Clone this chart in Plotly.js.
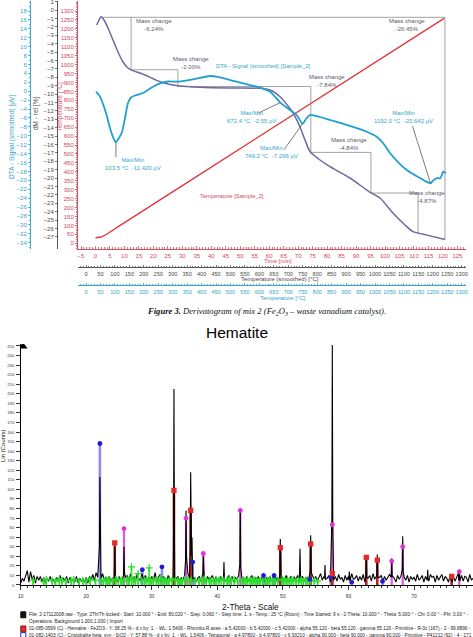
<!DOCTYPE html>
<html>
<head>
<meta charset="utf-8">
<script src="https://cdn.plot.ly/plotly-3.0.1.min.js"></script>
<style>
  html, body { margin: 0; padding: 0; background: #fff; }
  #fig { width: 473px; height: 637px; }
</style>
</head>
<body>
<div id="fig"></div>
<script>
// ---------- Thermal analysis of Sample_2 ----------
// furnace temperature programme: time [min] -> temperature [°C]
const tempProgTime  = [0, 2, 4, 8, 30, 60, 90, 120.4];
const tempProgValue = [31, 35, 52, 95, 323, 634, 944, 1259];

// DTA signal (smoothed) vs temperature [°C]
const dtaTemp = [34.6, 48.4, 69.2, 83.0, 93.4, 103.5, 114.2, 124.6, 134.9, 145.3, 155.7, 169.6, 197.2,
  231.8, 256.1, 283.7, 313.8, 370.2, 429.1, 452.2, 498.3, 543.3, 590.7, 636.7, 672.4, 705.9, 729.1,
  749.2, 761.2, 775.1, 809.7, 844.3, 902.1, 971.3, 1005.9, 1027.7, 1051.9, 1079.6, 1109.7, 1131.5,
  1155.7, 1173.0, 1192.0, 1200.7, 1211.1, 1218.0, 1224.9, 1231.8, 1235.3, 1245.7];
const dtaSignal = [-0.11, -1.23, -4.89, -8.26, -10.28, -11.42, -10.50, -9.16, -6.01, -2.65, -1.41, -0.96, -0.40,
  1.01, 1.77, 2.18, 2.13, 2.67, 3.41, 3.26, 2.51, 1.77, 1.01, -0.11, -2.55, -4.22, -5.34,
  -7.296, -6.24, -5.34, -5.79, -6.46, -7.58, -9.09, -10.21, -11.62, -13.87, -15.89, -17.68, -18.58,
  -19.48, -20.15, -20.642, -20.08, -19.59, -19.48, -19.59, -18.8, -18.07, -18.36];

// DTA extrema marked on the curve
const dtaPeakTemp   = [103.5, 672.4, 749.2, 1192.0];
const dtaPeakSignal = [-11.420, -2.55, -7.296, -20.642];
const dtaPeakDigits = [3, 2, 3, 3];

// relative mass change dM [%] vs smoothed temperature [°C]
const massTemp = [37.0, 45.0, 51.9, 62.3, 76.1, 93.4, 110.7, 128.0, 140.8, 152.2, 204.2, 256.1, 325.3,
  394.5, 498.3, 602.1, 636.7, 671.3, 699.0, 716.3, 740.5, 757.8, 775.1, 809.7, 844.3, 913.5, 982.7,
  1017.3, 1062.3, 1103.8, 1131.5, 1180.0, 1242.2];
const massRel = [-1.79, -1.19, -0.80, -1.19, -2.14, -3.57, -5.00, -6.19, -6.75, -7.06, -7.74, -8.54, -9.05,
  -9.20, -9.29, -9.32, -9.52, -10.32, -11.43, -12.26, -13.93, -15.48, -16.85, -17.86, -18.65, -20.00, -21.70,
  -22.38, -24.17, -25.60, -26.39, -26.80, -27.32];

// mass-change evaluation steps
const massStartTemp  = 52;
const massStartLevel = -0.87;
const massStepTemp   = [156, 318, 778, 986, 1149];
const massStepLoss   = [6.24, 2.00, 7.84, 4.84, 4.87];
const massTotalTemp  = 1242;
const massTotalLoss  = 26.45;

// axis tick values
const tempTicks = [0,50,100,150,200,250,300,350,400,450,500,550,600,650,700,750,800,850,900,950,1000,1050,1100,1150,1200,1250,1300];
const dmTicks   = [1,0,-1,-2,-3,-4,-5,-6,-7,-8,-9,-10,-11,-12,-13,-14,-15,-16,-17,-18,-19,-20,-21,-22,-23,-24,-25,-26,-27];
const dtaTicks  = [18,16,14,12,10,8,6,4,2,0,-2,-4,-6,-8,-10,-12,-14,-16,-18,-20,-22,-24,-26,-28,-30,-32,-34];

// ---------- XRD scan (Hematite) ----------
const scanStart = 10, scanStep = 0.25;
const bgCounts = [
  2,7,4,9, 15,3,14,6, 10,2,9,5, 9,3,8,2, 7,4,9,3, 6,2,8,4, 10,3,7,5, 9,2,8,4, 6,3,9,2, 7,4,6,3,
  8,2,9,5, 11,4,13,8, 16,6,12,5, 8,3,9,4, 7,5,8,3, 9,4,6,5, 8,10,4,12, 6,9,3,11, 7,4,12,5, 10,3,8,6,
  9,4,13,5, 8,11,4,9, 7,3,10,6, 5,8,4,7, 9,3,8,5, 10,6,12,7, 9,4,8,3, 7,9,4,11, 8,3,9,5, 7,10,4,8,
  6,3,9,5, 8,4,7,10, 5,9,3,8, 6,10,4,7, 8,3,9,4, 7,10,3,8, 5,9,4,7, 10,3,8,5, 9,4,7,11, 6,3,9,4,
  8,5,10,3, 7,9,4,8, 6,10,3,7, 9,4,8,5, 7,3,10,6, 9,4,8,12, 5,9,4,7, 10,3,8,5, 9,4,11,6, 8,3,10,5,
  9,4,12,6, 7,10,4,9, 5,11,3,8, 7,10,4,12, 6,9,3,8, 10,4,9,5, 8,11,4,9, 7,3,10,6, 9,4,8,5, 10,3,9,6,
  8,4,11,5, 7,10,3,9, 6,4,11,8, 9,3,10,5, 8,11,4,9, 7,3,10,6, 9,4,8,12, 6,10,4,9, 8,3,11,5, 7];
// reflections of the measured pattern: position, top, counts 0.07° left / right
const peakTheta = [22.08, 24.35, 25.76, 33.38, 35.22, 35.93, 36.13, 37.86, 41.01, 43.50, 49.60, 52.61,
  54.24, 56.42, 57.54, 60.13, 62.72, 64.40, 66.60, 68.28, 72.09, 75.75, 76.91];
const peakTop   = [113, 40, 40, 205, 78, 118, 50, 30, 24, 80, 48, 38, 52, 21, 251, 14, 29, 32, 28, 51, 16, 10, 16];
const peakLeft  = [40, 12, 10, 45, 25, 40, 30, 10, 8, 22, 14, 12, 15, 7, 70, 5, 9, 10, 8, 16, 5, 4, 5];
const peakRight = [35, 10, 12, 55, 30, 55, 12, 8, 6, 18, 12, 10, 14, 6, 60, 6, 8, 8, 9, 14, 6, 3, 4];

// reference phase sticks
const hematiteTheta = [24.35, 33.38, 35.93, 49.60, 54.24, 57.54, 62.72, 64.40, 75.75];
const hematiteY     = [44, 99, 78, 39, 43, 12, 29, 26, 9];
const cristobTheta  = [22.08, 28.55, 31.55, 36.24, 47.05, 48.65, 54.10, 57.30, 60.50, 65.20];
const cristobY      = [148, 16, 19, 24, 10, 10, 6, 8, 3, 4];
const phase3Theta   = [25.76, 35.22, 37.86, 43.50, 57.54, 66.60, 68.28, 76.91];
const phase3Y       = [59, 70, 33, 78, 63, 25, 40, 14];
const phase4Theta   = [11.9, 13.5, 13.9, 14.8, 15.3, 15.9, 16.3, 16.9, 17.7, 18.1, 18.9, 19.5, 20.0, 20.6,
  21.4, 22.3, 22.6, 23.0, 23.3, 23.6, 24.0, 24.5, 24.9, 25.3, 25.6, 26.2, 26.5, 26.9, 27.2, 27.5, 27.9,
  28.4, 28.9, 29.2, 29.6, 29.9, 30.2, 30.7, 31.0, 31.3, 31.7, 32.0, 32.3, 32.6, 33.1, 33.6, 34.0, 34.3,
  34.6, 35.0, 35.5, 36.0, 36.6, 37.2, 37.6, 38.0, 38.3, 38.8, 39.1, 39.5, 39.8, 40.2, 40.6, 41.0, 41.5,
  41.8, 42.1, 42.6, 43.1, 43.8, 44.0, 44.3, 44.6, 45.0, 45.3, 45.6, 45.9, 46.2, 46.5, 46.9, 47.4, 47.7,
  48.0, 48.4, 48.8, 49.2, 49.9, 50.1, 50.4, 50.7, 51.0, 51.3, 51.6, 52.0, 52.4, 52.8, 53.1, 53.5, 53.8,
  54.2, 54.8, 55.3];
const phase4Y       = [5, 4, 6, 5, 4, 6, 5, 4, 5, 6, 4, 5, 4, 6,
  5, 4, 4, 6, 5, 5, 4, 6, 6, 5, 4, 7, 5, 19, 6, 6, 12,
  5, 5, 6, 18, 4, 6, 5, 4, 7, 6, 5, 4, 4, 6, 5, 5, 4,
  4, 6, 6, 5, 5, 4, 6, 6, 5, 5, 4, 4, 6, 5, 6, 5, 4,
  6, 5, 6, 4, 5, 5, 4, 6, 5, 4, 6, 5, 4, 5, 6, 4, 5,
  6, 5, 4, 5, 6, 5, 4, 6, 4, 5, 6, 4, 5, 6, 4, 5, 6,
  4, 5, 4];

const legendLines = [
  'File: 2-17112008.raw - Type: 2Th/Th locked - Start: 10.000 ° - End: 80.020 ° - Step: 0.060 ° - Step time: 1. s - Temp.: 25 °C (Room) - Time Started: 9 s - 2-Theta: 10.000 ° - Theta: 5.000 ° - Chi: 0.00 ° - Phi: 0.00 ° -',
  'Operations: Background 1.000,1.000 | Import',
  '01-085-0599 (C) - Hematite - Fe2O3 - Y: 38.25 % - d x by: 1. - WL: 1.5406 - Rhombo.R.axes - a 5.42000 - b 5.42000 - c 5.42000 - alpha 55.120 - beta 55.120 - gamma 55.120 - Primitive - R-3c (167) - 2 - 99.6896 -',
  '01-082-1403 (C) - Cristobalite beta, syn - SiO2 - Y: 57.88 % - d x by: 1. - WL: 1.5406 - Tetragonal - a 4.97800 - b 4.97800 - c 6.93210 - alpha 90.000 - beta 90.000 - gamma 90.000 - Primitive - P41212 (92) - 4 - 171'
];

// ---------- page geometry (pixels of the 473 x 637 page) ----------
const W = 473, H = 637;
const px = v => v / W;
const py = v => 1 - v / H;
const FONT = 'Liberation Sans, Arial, Helvetica, sans-serif';

const redLine = '#e2383c', redTxt = '#d6485c';
const teal = '#1f9fd2', tealTxt = '#35a6c8';
const massCol = '#6c6a9e', darkTxt = '#4a4a4a';

// top block: plot area 78..466 x 1..249
const G = { left: 78, right: 466, top: 1, bottom: 249 };
const timeZero = 95.5, timePerMin = 2.895;
const tX0 = 86, tX1300 = 461.7;
const tY0 = 243.3, tY1300 = 11;
const dmZero = 10, dmPerPct = 8.4;
const dta18 = 11, dtaM34 = 242.7;

const timeRange = [(G.left - timeZero) / timePerMin, (G.right - timeZero) / timePerMin];
const sX = (tX1300 - tX0) / 1300;
const tempXRange = [(G.left - tX0) / sX, (G.right - tX0) / sX];
const sY = (tY0 - tY1300) / 1300;
const tempYRange = [-(G.bottom - tY0) / sY, (tY0 - G.top) / sY];
const dmRange = [-(G.bottom - dmZero) / dmPerPct, (dmZero - G.top) / dmPerPct];
const sD = (dtaM34 - dta18) / 52;
const dtaRange = [-34 - (G.bottom - dtaM34) / sD, 18 + (dta18 - G.top) / sD];

// bottom block
const xrd10 = 20.7, xrdPerDeg = 6.555, xrdZero = 585, xrdPerCount = 0.956, xrdTop = 252;
const xrdRange = [10, 10 + (W - xrd10) / xrdPerDeg];

// ---------- traces ----------
const traces = [];

traces.push({ x: tempProgTime, y: tempProgValue, xaxis: 'x', yaxis: 'y', mode: 'lines',
  line: { color: redLine, width: 1.4 }, hoverinfo: 'skip' });

// mass-change staircase
const levels = [massStartLevel];
massStepLoss.forEach(l => levels.push(levels[levels.length - 1] - l));
const bx = [massStartTemp, massTotalTemp, massTotalTemp, null];
const by = [massStartLevel, massStartLevel, massStartLevel - massTotalLoss, null];
massStepTemp.forEach((t, i) => {
  bx.push(t, t);
  by.push(levels[i], levels[i + 1]);
  if (i + 1 < massStepTemp.length) { bx.push(massStepTemp[i + 1]); by.push(levels[i + 1]); }
});
traces.push({ x: bx, y: by, xaxis: 'x2', yaxis: 'y2', mode: 'lines',
  line: { color: '#8a8a8a', width: 0.8 }, connectgaps: false, hoverinfo: 'skip' });

traces.push({ x: massTemp, y: massRel, xaxis: 'x2', yaxis: 'y2', mode: 'lines',
  line: { color: massCol, width: 1.5, shape: 'spline', smoothing: 0.6 }, hoverinfo: 'skip' });

traces.push({ x: dtaTemp, y: dtaSignal, xaxis: 'x3', yaxis: 'y3', mode: 'lines',
  line: { color: teal, width: 1.8, shape: 'spline', smoothing: 0.6 }, hoverinfo: 'skip' });

// leaders from the extrema labels to the DTA curve (offsets in pixels)
const leaderOffset = [[0, 15], [-22, 10.5], [-18.5, 26], [-18, -57]];
const lx = [], ly = [];
dtaPeakTemp.forEach((t, i) => {
  lx.push(t, t + leaderOffset[i][0] / sX, null);
  ly.push(dtaPeakSignal[i], dtaPeakSignal[i] - leaderOffset[i][1] / sD, null);
});
traces.push({ x: lx, y: ly, xaxis: 'x3', yaxis: 'y3', mode: 'lines',
  line: { color: '#5a5a5a', width: 0.8 }, hoverinfo: 'skip' });

// XRD pattern: background scan points plus reflection profiles
const pts = [];
bgCounts.forEach((c, i) => {
  const t = scanStart + i * scanStep;
  if (!peakTheta.some(p => Math.abs(p - t) < 0.1)) pts.push([t, c]);
});
peakTheta.forEach((t, i) => {
  pts.push([t - 0.07, peakLeft[i]], [t, peakTop[i]], [t + 0.07, peakRight[i]]);
});
pts.sort((a, b) => a[0] - b[0]);

function sticks(theta, ys) {
  const x = [], y = [];
  theta.forEach((t, i) => { x.push(t, t, null); y.push(0, ys[i], null); });
  return { x, y };
}
const stickSets = [
  [cristobTheta, cristobY, '#8e8ef0', 2.6],
  [phase3Theta, phase3Y, '#de5ade', 2.2],
  [hematiteTheta, hematiteY, '#b42424', 2.6]
];
stickSets.forEach(([t, v, c, w]) => {
  const s = sticks(t, v);
  traces.push({ x: s.x, y: s.y, xaxis: 'x4', yaxis: 'y4', mode: 'lines',
    line: { color: c, width: w }, hoverinfo: 'skip' });
});

traces.push({ x: pts.map(p => p[0]), y: pts.map(p => p[1]), xaxis: 'x4', yaxis: 'y4', mode: 'lines',
  line: { color: '#000', width: 1.1 }, hoverinfo: 'skip' });

// fourth phase drawn over the noise band
const g = sticks(phase4Theta, phase4Y);
traces.push({ x: g.x, y: g.y, xaxis: 'x4', yaxis: 'y4', mode: 'lines',
  line: { color: '#38e038', width: 1.8 }, hoverinfo: 'skip' });

const markerSets = [
  [phase4Theta, phase4Y, '#2cdc2c', 'cross-thin', 5],
  [cristobTheta, cristobY, '#1c1cd8', 'circle', 3.5],
  [phase3Theta, phase3Y, '#e030e0', 'circle', 3.5],
  [hematiteTheta, hematiteY, '#e82828', 'square', 4]
];
markerSets.forEach(([t, v, c, sym, sz]) => {
  traces.push({ x: t, y: v, xaxis: 'x4', yaxis: 'y4', mode: 'markers',
    marker: { color: c, symbol: sym, size: sz, line: { color: c, width: 1.3 } }, hoverinfo: 'skip' });
});

// axis arrow at the top of the counts axis
traces.push({ x: [xrdRange[0] + 0.35], y: [xrdTop - 2.5], xaxis: 'x4', yaxis: 'y4', mode: 'markers',
  marker: { symbol: 'triangle-up', color: '#000', size: 8 }, hoverinfo: 'skip' });

// ---------- annotations ----------
const ann = [];
function note(text, x, y, opt) {
  return Object.assign({ text, x: px(x), y: py(y), xref: 'paper', yref: 'paper', showarrow: false,
    xanchor: 'center', yanchor: 'middle', font: { family: FONT, size: 6, color: darkTxt } }, opt || {});
}

// mass-change labels
const massLabelPos = [[154.3, 25.5], [190.7, 63], [326.7, 81.2], [349.3, 143.7], [426.7, 197.3]];
massStepLoss.forEach((l, i) => {
  ann.push(note('Mass change<br>' + (-l).toFixed(2) + '%', massLabelPos[i][0], massLabelPos[i][1],
    { font: { family: FONT, size: 6, color: '#5a5a6a' } }));
});
ann.push(note('Mass change<br>' + (-massTotalLoss).toFixed(2) + '%', 406.7, 25.3,
  { font: { family: FONT, size: 6, color: '#5a5a6a' } }));

// DTA extrema labels
const peakLabelPos = [[133, 163.7], [252, 116.7], [271.5, 152], [403, 117.3]];
dtaPeakTemp.forEach((t, i) => {
  ann.push(note('Max/Min<br>' + t.toFixed(1) + ' °C  ' + dtaPeakSignal[i].toFixed(dtaPeakDigits[i]) + ' µV',
    peakLabelPos[i][0], peakLabelPos[i][1], { font: { family: FONT, size: 6, color: tealTxt } }));
});

ann.push(note('DTA - Signal (smoothed) [Sample_2]', 262.5, 65.7, { font: { family: FONT, size: 5.8, color: tealTxt } }));
ann.push(note('Temperature [Sample_2]', 231.5, 195.7, { font: { family: FONT, size: 5.8, color: redTxt } }));

// axis titles of the top block
ann.push(note('DTA - Signal (smoothed) [µV]', 12, 137, { textangle: -90, font: { family: FONT, size: 6.5, color: tealTxt } }));
ann.push(note('dM - rel [%]', 36, 114, { textangle: -90, font: { family: FONT, size: 6.5, color: darkTxt } }));
ann.push(note('Temperature [°C]', 59.5, 107, { textangle: -90, font: { family: FONT, size: 6.5, color: redTxt } }));
ann.push(note('Time [min]', 277.5, 261, { font: { family: FONT, size: 6, color: redTxt } }));
ann.push(note('Temperature (smoothed) [°C]', 280, 279, { font: { family: FONT, size: 6, color: darkTxt } }));
ann.push(note('Temperature [°C]', 283, 297.7, { font: { family: FONT, size: 6, color: tealTxt } }));

ann.push(note('<b><i>Figure 3.</i></b><i> Derivatogram of mix 2 (Fe<sub>2</sub>O<sub>3</sub> – waste vanadium catalyst).</i>',
  266.5, 311, { font: { family: 'Liberation Serif, Times New Roman, serif', size: 8.6, color: '#111' } }));

// bottom block texts
ann.push(note('Hematite', 236.5, 332.5, { font: { family: FONT, size: 15.5, color: '#000' } }));
ann.push(note('Lin (Counts)', 3.2, 446, { textangle: -90, font: { family: FONT, size: 6, color: '#111' } }));
ann.push(note('2-Theta - Scale', 250, 606.5, { font: { family: FONT, size: 8.3, color: '#111' } }));
const legendY = [614.8, 621.5, 628.8, 635.3];
legendLines.forEach((s, i) => {
  ann.push(note(s, 26.8, legendY[i], { xanchor: 'left', font: { family: FONT, size: 4.7, color: '#222' } }));
});

// legend swatches
const shapes = [];
const swatch = [[611.8, 617.8, '#111', '#111'], [626.0, 631.8, '#e52b2b', '#8b1010'], [632.6, 637.6, '#ffffff', '#1a2ad0']];
swatch.forEach(([y0, y1, f, l]) => {
  shapes.push({ type: 'rect', xref: 'paper', yref: 'paper', x0: px(20.8), x1: px(25.8), y0: py(y1), y1: py(y0),
    fillcolor: f, line: { color: l, width: 1 } });
});

// ---------- axes ----------
const ax = (color, txt, extra) => Object.assign({
  showgrid: false, zeroline: false, showline: true, linecolor: color, linewidth: 1, tickangle: 0,
  tickcolor: color, tickwidth: 0.8, tickfont: { family: FONT, size: 6, color: txt }, fixedrange: true
}, extra);

const layout = {
  width: W, height: H, margin: { l: 0, r: 0, t: 0, b: 0 },
  paper_bgcolor: '#ffffff', plot_bgcolor: 'rgba(0,0,0,0)', showlegend: false,
  font: { family: FONT },
  xaxis: ax('#d8505c', redTxt, { domain: [px(G.left), px(G.right)], range: timeRange, anchor: 'y',
    tickmode: 'linear', tick0: 0, dtick: 5, ticks: 'inside', ticklen: 3, ticklabelstandoff: 1,
    minor: { dtick: 1, tick0: 0, ticks: 'inside', ticklen: 1.6, tickcolor: '#d8505c' } }),
  xaxis2: ax('#555', darkTxt, { overlaying: 'x', anchor: 'free', position: py(267), side: 'bottom',
    range: tempXRange, tickmode: 'linear', tick0: 0, dtick: 50, ticks: 'inside', ticklen: 2.5, ticklabelstandoff: 1,
    tickfont: { family: FONT, size: 5.6, color: darkTxt },
    minor: { dtick: 10, tick0: 0, ticks: 'inside', ticklen: 1.5, tickcolor: '#555' } }),
  xaxis3: ax('#3aa8c8', tealTxt, { overlaying: 'x', anchor: 'free', position: py(285), side: 'bottom',
    range: tempXRange, tickmode: 'linear', tick0: 0, dtick: 50, ticks: 'inside', ticklen: 2.5, ticklabelstandoff: 1,
    tickfont: { family: FONT, size: 5.6, color: tealTxt },
    minor: { dtick: 10, tick0: 0, ticks: 'inside', ticklen: 1.5, tickcolor: '#3aa8c8' } }),
  yaxis: ax('#d8505c', redTxt, { domain: [py(G.bottom), py(G.top)], range: tempYRange, anchor: 'x', side: 'left',
    tickmode: 'array', tickvals: tempTicks, ticks: 'outside', ticklen: 2, ticklabelstandoff: 0,
    minor: { dtick: 10, tick0: 0, ticks: 'outside', ticklen: 1.2, tickcolor: '#d8505c' } }),
  yaxis2: ax('#555', darkTxt, { overlaying: 'y', anchor: 'free', position: px(57), side: 'left', range: dmRange,
    tickmode: 'array', tickvals: dmTicks, ticks: 'outside', ticklen: 2, ticklabelstandoff: 0 }),
  yaxis3: ax('#3aa8c8', tealTxt, { overlaying: 'y', anchor: 'free', position: px(30), side: 'left', range: dtaRange,
    tickmode: 'array', tickvals: dtaTicks, ticks: 'outside', ticklen: 2, ticklabelstandoff: 0,
    minor: { dtick: 1, tick0: 0, ticks: 'outside', ticklen: 1.2, tickcolor: '#3aa8c8' } }),
  xaxis4: ax('#000', '#333', { domain: [px(xrd10), 1], range: xrdRange, anchor: 'y4',
    tickmode: 'linear', tick0: 10, dtick: 10, ticks: 'outside', ticklen: 4, ticklabelstandoff: 2,
    tickfont: { family: FONT, size: 5, color: '#333' },
    minor: { dtick: 1, tick0: 10, ticks: 'outside', ticklen: 2.2, tickcolor: '#000' } }),
  yaxis4: ax('#000', '#333', { domain: [py(xrdZero), py(xrdZero - xrdTop * xrdPerCount)], range: [0, xrdTop],
    anchor: 'x4', tickmode: 'linear', tick0: 0, dtick: 10, ticks: 'outside', ticklen: 3.5, ticklabelstandoff: 1,
    tickfont: { family: FONT, size: 4.3, color: '#333' } }),
  annotations: ann,
  shapes: shapes
};

Plotly.newPlot('fig', traces, layout, { staticPlot: true, displayModeBar: false });
</script>
</body>
</html>
